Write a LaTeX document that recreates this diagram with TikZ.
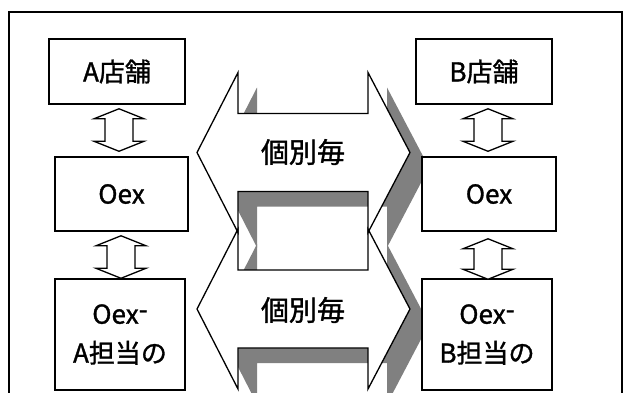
\documentclass[tikz,border=0pt]{standalone}
\usepackage{fontspec}
\setmainfont{Noto Sans CJK JP}[RawFeature={embolden=1.2}]
\usetikzlibrary{calc}
\definecolor{shadowgray}{RGB}{128,128,128}
\newcommand{\vdarr}[2]{%
  \draw[smallarr] let \p1=#1, \p2=#2 in
    (\x1,\y1) -- (\x1+25pt,\y1-10pt) -- (\x1+14pt,\y1-10pt) -- (\x1+14pt,\y2+10pt)
    -- (\x1+25pt,\y2+10pt) -- (\x1,\y2) -- (\x1-25pt,\y2+10pt) -- (\x1-14pt,\y2+10pt)
    -- (\x1-14pt,\y1-10pt) -- (\x1-25pt,\y1-10pt) -- cycle;}
\begin{document}
\begin{tikzpicture}[x=1pt,y=-1pt,
  box/.style={draw, line width=1.5pt, fill=white, inner sep=0pt, align=center,
    font=\fontsize{26}{39}\selectfont},
  bigtext/.style={inner sep=0pt, font=\fontsize{28}{34}\selectfont},
  smallarr/.style={draw, line width=1.3pt, fill=white, line join=miter},
  bigarrow/.pic={\path[pic actions] (-106.5,0) -- (-65.5,-80) -- (-65.5,-39) -- (64.5,-39)
     -- (64.5,-80) -- (106.5,0) -- (64.5,80) -- (64.5,39) -- (-65.5,39) -- (-65.5,80) -- cycle;}]
\useasboundingbox (0,0) rectangle (628,392);
\fill[white] (0,0) rectangle (628,392);
% frame
\draw[line width=1.5pt] (9,400) -- (9,12) -- (622,12) -- (622,400);
% shadows
\pic[fill=shadowgray] at (322.5,167.5) {bigarrow};
\pic[fill=shadowgray] at (322.5,324) {bigarrow};
% arrows
\pic[fill=white] at (303.5,152.5) {bigarrow};
\pic[fill=white] at (303.5,309) {bigarrow};
\pic[draw, line width=1.3pt, line join=miter] at (303.5,152.5) {bigarrow};
\pic[draw, line width=1.3pt, line join=miter] at (303.5,309) {bigarrow};
\node[bigtext] (T1) at (303,152) {個別毎};
\node[bigtext] (T2) at (303,310) {個別毎};
% boxes
\node[box, minimum width=136pt, minimum height=65pt] (A1) at (117,71.5) {A店舗};
\node[box, minimum width=136pt, minimum height=65pt] (B1) at (484,71.5) {B店舗};
\node[box, minimum width=133pt, minimum height=74pt] (O1) at (121.5,194) {Oex};
\node[box, minimum width=134pt, minimum height=74pt] (O2) at (489,194) {Oex};
\node[box, minimum width=130pt, minimum height=111pt] (X1) at (120,334.5) {Oex\raisebox{5pt}{-}\\A担当の};
\node[box, minimum width=130pt, minimum height=111pt] (X2) at (487,334.5) {Oex\raisebox{5pt}{-}\\B担当の};
% small arrows
\vdarr{($(A1.south)+(2,4)$)}{($(O1.north)+(0,-5)$)}
\vdarr{($(O1.south)+(-0.5,4)$)}{($(X1.north)+(0,0)$)}
\vdarr{($(B1.south)+(4,4)$)}{($(O2.north)+(0,-5)$)}
\vdarr{($(O2.south)+(-1,7)$)}{($(X2.north)+(0,1)$)}
\end{tikzpicture}
\end{document}
